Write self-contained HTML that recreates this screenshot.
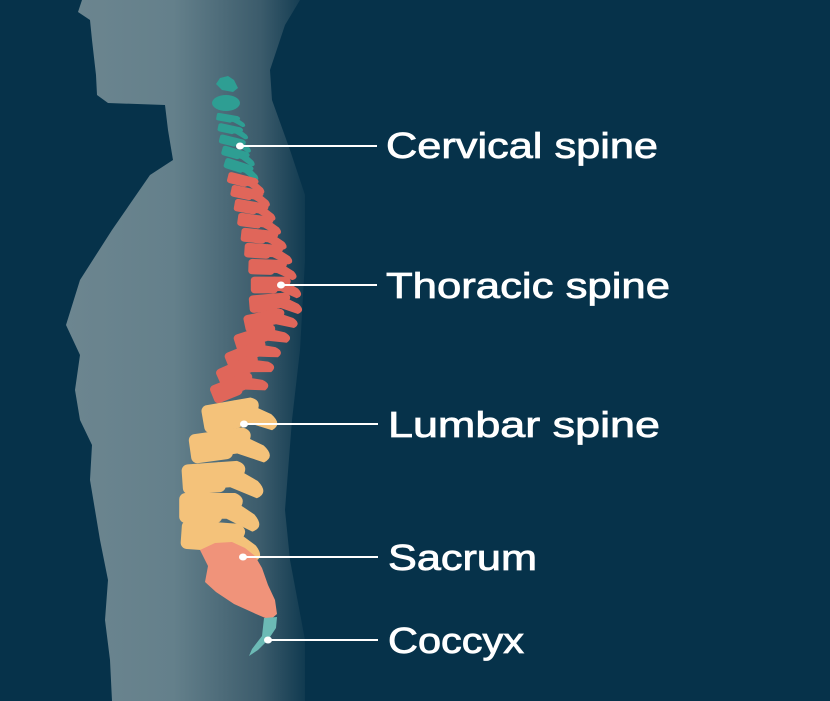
<!DOCTYPE html>
<html><head><meta charset="utf-8"><style>
html,body{margin:0;padding:0;background:#06324a;}
svg{display:block}
text{font-family:"Liberation Sans",sans-serif;font-weight:normal;fill:#fff;font-size:36px;stroke:#fff;stroke-width:0.8px}
</style></head><body>
<svg width="830" height="701" viewBox="0 0 830 701" xmlns="http://www.w3.org/2000/svg">
<defs>
<linearGradient id="bg" gradientUnits="userSpaceOnUse" x1="60" y1="0" x2="312" y2="0">
<stop offset="0" stop-color="#6d8690"/>
<stop offset="0.45" stop-color="#64808b"/>
<stop offset="0.8" stop-color="#3b5b6b"/>
<stop offset="1" stop-color="#0a354c"/>
</linearGradient>
<symbol id="v" overflow="visible">
<rect x="-12" y="-7" width="20" height="14" rx="3"/>
<path d="M5,-7 L14,-7 Q19,-5 17,-1 L23,3 Q28,9 22,11 L16,8 L10,5 L5,5 Z"/>
</symbol>
</defs>
<rect width="830" height="701" fill="#06324a"/>
<path fill="url(#bg)" d="M82,0 L78,12 L90,20 L92,40 L96,75 L97,95 L108,103 L165,105 L168,130 L173,160 L150,175 L112,230 L80,280 L66,325 L80,355 L75,390 L80,420 L92,445 L90,480 L100,540 L108,580 L105,620 L110,660 L112,701 L305,701 L305,640 L290,560 L285,510 L292,420 L300,350 L305,260 L305,195 L290,150 L272,100 L270,70 L285,25 L300,0 Z"/>
<!-- cervical -->
<g fill="#2e9e93">
<path d="M220,78 L228,76 L234,80 L238,88 L233,92 L222,90 L216,84 Z"/>
<ellipse cx="226" cy="103" rx="14" ry="8"/>
<use href="#v" transform="translate(226,118) rotate(10) scale(0.8,0.55)"/>
<use href="#v" transform="translate(228,129) rotate(12) scale(0.85,0.6)"/>
<use href="#v" transform="translate(230,141) rotate(14) scale(0.9,0.65)"/>
<use href="#v" transform="translate(233,153) rotate(16) scale(0.95,0.7)"/>
<use href="#v" transform="translate(236,166) rotate(18) scale(1,0.75)"/>
</g>
<!-- thoracic -->
<g fill="#e0665a">
<use href="#v" transform="translate(240,180) rotate(14) scale(1.05,0.8)"/>
<use href="#v" transform="translate(244,193) rotate(12) scale(1.1,0.85)"/>
<use href="#v" transform="translate(248,207) rotate(10) scale(1.15,0.9)"/>
<use href="#v" transform="translate(252,221) rotate(8) scale(1.2,0.95)"/>
<use href="#v" transform="translate(256,236) rotate(6) scale(1.25,1)"/>
<use href="#v" transform="translate(260,251) rotate(4) scale(1.3,1.05)"/>
<use href="#v" transform="translate(264,267) rotate(2) scale(1.3,1.1)"/>
<use href="#v" transform="translate(267,285) rotate(0) scale(1.35,1.2)"/>
<use href="#v" transform="translate(266,303) rotate(-5) scale(1.4,1.25)"/>
<use href="#v" transform="translate(261,321) rotate(-12) scale(1.4,1.25)"/>
<use href="#v" transform="translate(252,339) rotate(-18) scale(1.45,1.3)"/>
<use href="#v" transform="translate(243,356) rotate(-22) scale(1.45,1.3)"/>
<use href="#v" transform="translate(235,372) rotate(-24) scale(1.5,1.35)"/>
<use href="#v" transform="translate(229,389) rotate(-22) scale(1.5,1.35)"/>
</g>
<!-- lumbar -->
<g fill="#f4c27a">
<use href="#v" transform="translate(226,416) rotate(-10) scale(1.95,2)"/>
<use href="#v" transform="translate(215,446) rotate(-8) scale(2.1,2.1)"/>
<use href="#v" transform="translate(208,478) rotate(-4) scale(2.15,2.15)"/>
<use href="#v" transform="translate(205,508) rotate(0) scale(2.15,2.15)"/>
<use href="#v" transform="translate(207,536) rotate(4) scale(2.15,2.05)"/>
</g>
<!-- sacrum -->
<path fill="#f0937a" d="M200,550 L215,543 L232,542 L245,548 L255,556 L262,568 L268,585 L275,600 L277,614 L270,620 L256,614 L234,604 L216,592 L205,582 L208,566 Z"/>
<!-- coccyx -->
<path fill="#6cbab5" d="M264,618 L277,617 L276,628 L268,640 L258,650 L249,656 L252,649 L262,636 Z"/>
<g stroke="#fff" stroke-width="2" fill="none">
<line x1="240" y1="146" x2="377" y2="146"/>
<line x1="281" y1="285" x2="377" y2="285"/>
<line x1="244" y1="424" x2="378" y2="424"/>
<line x1="243" y1="557" x2="378" y2="557"/>
<line x1="268" y1="640" x2="378" y2="640"/>
</g>
<g fill="#fff">
<ellipse cx="240" cy="146" rx="4" ry="3.5"/>
<ellipse cx="281" cy="285" rx="4" ry="3.5"/>
<ellipse cx="244" cy="424" rx="4" ry="3.5"/>
<ellipse cx="243" cy="557" rx="4" ry="3.5"/>
<ellipse cx="268" cy="640" rx="4" ry="3.5"/>
</g>
<text x="386" y="158" textLength="272" lengthAdjust="spacingAndGlyphs">Cervical spine</text>
<text x="386" y="298" textLength="284" lengthAdjust="spacingAndGlyphs">Thoracic spine</text>
<text x="388" y="437" textLength="272" lengthAdjust="spacingAndGlyphs">Lumbar spine</text>
<text x="388" y="570" textLength="149" lengthAdjust="spacingAndGlyphs">Sacrum</text>
<text x="388" y="653" textLength="136" lengthAdjust="spacingAndGlyphs">Coccyx</text>
</svg>
</body></html>
